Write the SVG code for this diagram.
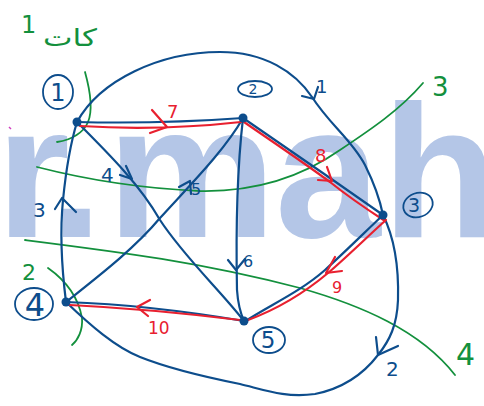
<svg xmlns="http://www.w3.org/2000/svg" width="484" height="406" viewBox="0 0 484 406">
<style>
.wm{font-family:"Liberation Sans",Arial,sans-serif;font-weight:bold;font-size:190px;fill:#b4c6e7}
.e{fill:none;stroke:#0d4d8c;stroke-width:2.2;stroke-linecap:round;stroke-linejoin:round}
.r{fill:none;stroke:#e8202f;stroke-width:2.2;stroke-linecap:round;stroke-linejoin:round}
.g{fill:none;stroke:#13903d;stroke-width:1.8;stroke-linecap:round}
.dot{fill:#0d4d8c}
.ring{fill:none;stroke:#0d4d8c;stroke-width:1.8}
.t{font-family:"DejaVu Sans","Liberation Sans",sans-serif}
.tb{fill:#0d4d8c}
.tr{fill:#e8202f}
.tg{fill:#13903d}
</style>
<rect width="484" height="406" fill="#ffffff"/>
<text class="wm" x="-4 50 107 275 382" y="237">r.mah</text>
<path d="M9,127 l2,2" stroke="#d040c0" stroke-width="1.5"/>
<g id="cuts">
<path class="g" d="M85,72 C90,90 93,110 88,122 C84,132 72,140 57,142"/>
<path class="g" d="M37,167 C80,178 130,188 200,191 C255,192 300,178 340,150 C370,130 400,110 423,83"/>
<path class="g" d="M25,240 C120,252 200,262 300,288 C360,305 420,330 455,375"/>
<path class="g" d="M48,268 C65,280 78,295 82,318 C83,330 78,340 72,345"/>
<text class="t tg" x="21" y="33" font-size="24">1</text>
<text class="t tg" x="70" y="46" font-size="24" text-anchor="middle" textLength="54" lengthAdjust="spacingAndGlyphs">کات</text>
<text class="t tg" x="432" y="96" font-size="26">3</text>
<text class="t tg" x="22" y="280" font-size="22">2</text>
<text class="t tg" x="456" y="365" font-size="30">4</text>
</g>
<g id="connectors">
<path class="e" d="M77,122 C100,80 160,52 220,52 C265,52 295,72 312,97 C330,125 352,140 365,165 C375,185 380,200 383,215"/>
<polyline class="e" points="302,96 314,99 318,87"/>
<path class="e" d="M383,215 C393,235 399,265 398,300 C397,325 390,340 378,355 C365,372 345,388 315,394 C285,398 265,390 240,384 C200,376 165,367 140,357 C115,347 90,325 66,302"/>
<polyline class="e" points="376,337 378,355 398,346"/>
<path class="e" d="M66,302 C62,270 60,230 63,200 C66,170 70,145 77,122"/>
<polyline class="e" points="55,209 62,198 76,212"/>
<path class="e" d="M77,122 C110,155 140,185 160,220 C185,258 220,290 244,321"/>
<polyline class="e" points="120,175 132,179 126,166"/>
<path class="e" d="M66,302 C100,275 135,248 160,218 C190,185 225,150 243,118"/>
<polyline class="e" points="179,187 190,181 191,194"/>
<path class="e" d="M243,118 C237,170 236,240 237,290 C238,305 240,312 244,321"/>
<polyline class="e" points="228,260 236,270 245,259"/>
<path class="e" d="M77,122 Q160,124 243,118"/>
<path class="r" d="M80,126 Q160,131 241,122"/>
<polyline class="r" points="152,110 167,127 150,133"/>
<path class="e" d="M243,118 L330,178 L383,215"/>
<path class="r" d="M244,122 C270,140 300,160 330,182 C350,198 368,210 385,221"/>
<polyline class="r" points="327,167 332,181 318,180"/>
<path class="e" d="M383,215 C365,232 345,252 325,270 C300,292 270,305 244,322"/>
<path class="r" d="M386,220 C368,236 348,256 328,273 C303,294 275,310 248,320"/>
<polyline class="r" points="335,257 326,273 342,271"/>
<path class="e" d="M66,302 Q150,305 244,321"/>
<path class="r" d="M70,305 Q150,309 240,320"/>
<polyline class="r" points="150,300 137,307 148,316"/>
<text class="t tb" x="316" y="93" font-size="18">1</text>
<text class="t tb" x="386" y="376" font-size="20">2</text>
<text class="t tb" x="33" y="217" font-size="20">3</text>
<text class="t tb" x="101" y="182" font-size="20">4</text>
<text class="t tb" x="191" y="195" font-size="16">5</text>
<text class="t tb" x="243" y="267" font-size="16">6</text>
<text class="t tr" x="167" y="118" font-size="18">7</text>
<text class="t tr" x="315" y="162" font-size="18">8</text>
<text class="t tr" x="332" y="293" font-size="16">9</text>
<text class="t tr" x="148" y="334" font-size="17">10</text>
</g>
<g id="n1"><circle class="dot" cx="77" cy="122" r="4.5"/><ellipse class="ring" cx="58" cy="92" rx="15" ry="17"/><text class="t tb" x="58" y="101" font-size="24" text-anchor="middle">1</text></g>
<g id="n2"><circle class="dot" cx="243" cy="118" r="4.5"/><ellipse class="ring" cx="255" cy="89" rx="17" ry="8"/><text class="t tb" x="253" y="94" font-size="14" text-anchor="middle">2</text></g>
<g id="n3"><circle class="dot" cx="383" cy="215" r="4.5"/><ellipse class="ring" cx="418" cy="205" rx="15" ry="12" transform="rotate(-20 418 205)"/><text class="t tb" x="414" y="212" font-size="19" text-anchor="middle">3</text></g>
<g id="n4"><circle class="dot" cx="66" cy="302" r="4.5"/><ellipse class="ring" cx="34" cy="304" rx="19" ry="16"/><text class="t tb" x="35" y="316" font-size="32" text-anchor="middle">4</text></g>
<g id="n5"><circle class="dot" cx="244" cy="321" r="4.5"/><ellipse class="ring" cx="269" cy="340" rx="16" ry="13"/><text class="t tb" x="268" y="348" font-size="23" text-anchor="middle">5</text></g>
</svg>
